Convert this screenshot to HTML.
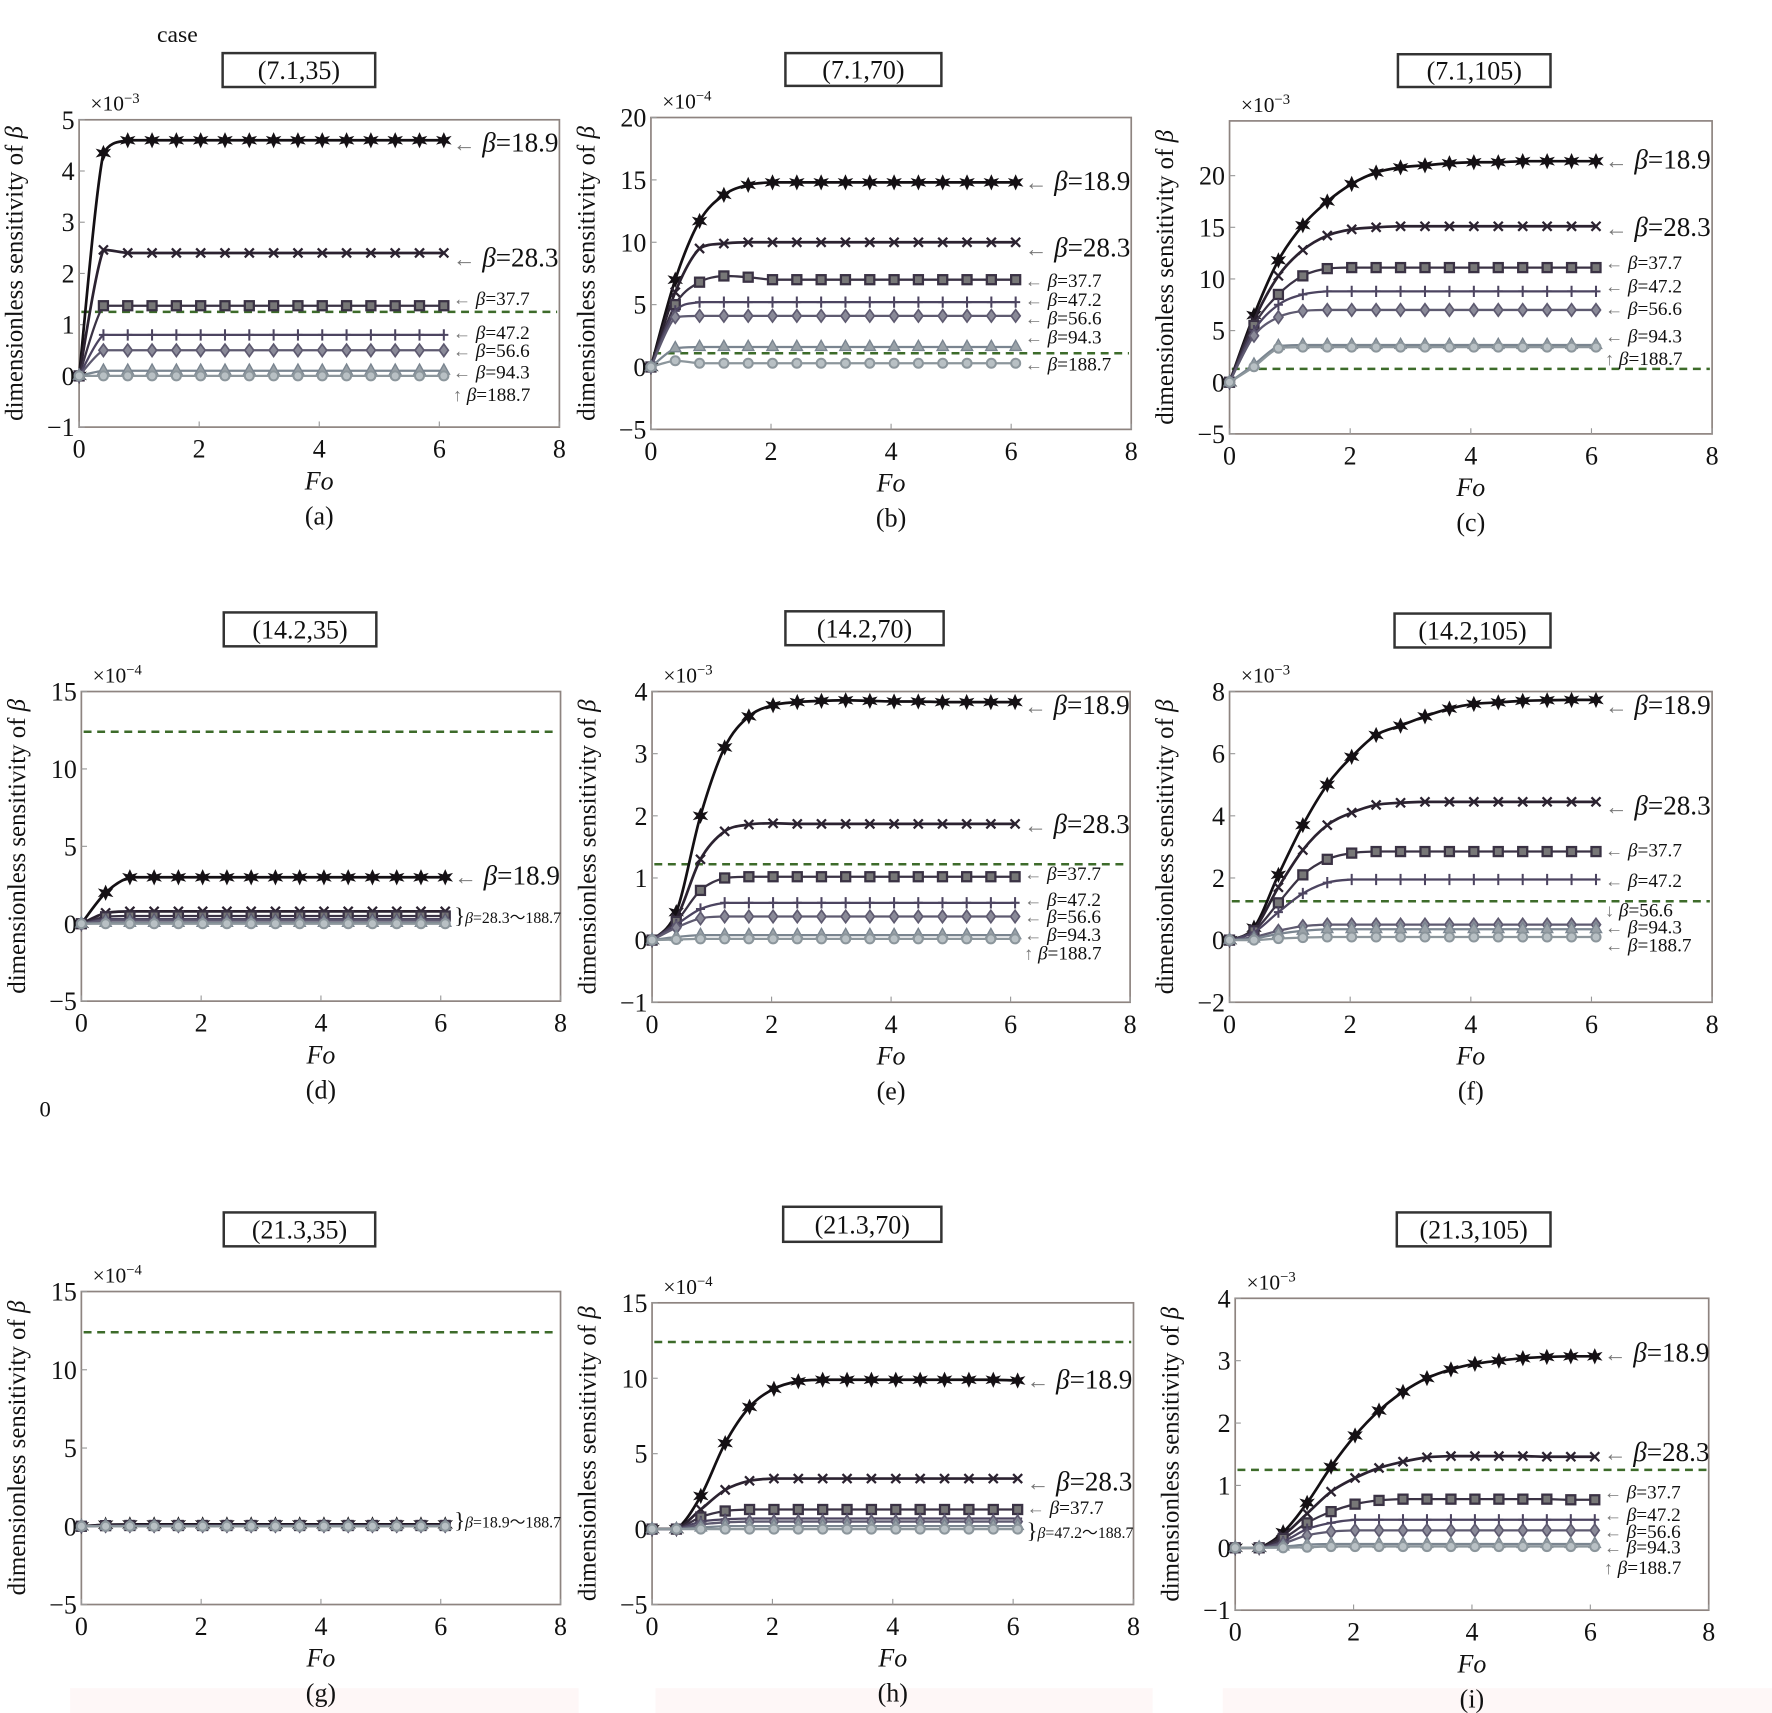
<!DOCTYPE html>
<html><head><meta charset="utf-8"><style>
html,body{margin:0;padding:0;background:#fff;}
svg{display:block;}
svg text{font-family:"Liberation Serif","DejaVu Serif",serif;fill:#111;}
</style></head><body>
<svg id="fig" width="1772" height="1713" viewBox="0 0 1568 1516" preserveAspectRatio="none" xmlns="http://www.w3.org/2000/svg" font-family="Liberation Serif, serif">
<rect x="0" y="0" width="1568" height="1516" fill="#fff"/>
<rect x="62" y="1494" width="450" height="22" fill="#fef7f7"/>
<rect x="580" y="1494" width="440" height="22" fill="#fef7f7"/>
<rect x="1082" y="1494" width="486" height="22" fill="#fef7f7"/>
<text x="157" y="37" font-size="21" text-anchor="middle">case</text>
<text x="40" y="988" font-size="20" text-anchor="middle">0</text>
<circle cx="1237" cy="545" r="2" fill="#e33"/>
<circle cx="1237" cy="572" r="2" fill="#e33"/>
</svg>
<script>
const fo = [0,0.405,0.81,1.215,1.62,2.025,2.43,2.835,3.24,3.645,4.05,4.455,4.86,5.265,5.67,6.075];
const betas = ['18.9','28.3','37.7','47.2','56.6','94.3','188.7'];
const valsA = [
 [0,4.35,4.6,4.6,4.6,4.6,4.6,4.6,4.6,4.6,4.6,4.6,4.6,4.6,4.6,4.6],
 [0,2.46,2.4,2.4,2.4,2.4,2.4,2.4,2.4,2.4,2.4,2.4,2.4,2.4,2.4,2.4],
 [0,1.37,1.37,1.37,1.37,1.37,1.37,1.37,1.37,1.37,1.37,1.37,1.37,1.37,1.37,1.37],
 [0,0.8,0.8,0.8,0.8,0.8,0.8,0.8,0.8,0.8,0.8,0.8,0.8,0.8,0.8,0.8],
 [0,0.5,0.5,0.5,0.5,0.5,0.5,0.5,0.5,0.5,0.5,0.5,0.5,0.5,0.5,0.5],
 [0,0.1,0.1,0.1,0.1,0.1,0.1,0.1,0.1,0.1,0.1,0.1,0.1,0.1,0.1,0.1],
 [0,0,0,0,0,0,0,0,0,0,0,0,0,0,0,0]];
const valsB = [
 [0,7,11.7,13.8,14.6,14.8,14.8,14.8,14.8,14.8,14.8,14.8,14.8,14.8,14.8,14.8],
 [0,6,9.5,9.9,10,10,10,10,10,10,10,10,10,10,10,10],
 [0,5,6.8,7.3,7.2,7,7,7,7,7,7,7,7,7,7,7],
 [0,4.5,5.2,5.2,5.2,5.2,5.2,5.2,5.2,5.2,5.2,5.2,5.2,5.2,5.2,5.2],
 [0,4,4.1,4.1,4.1,4.1,4.1,4.1,4.1,4.1,4.1,4.1,4.1,4.1,4.1,4.1],
 [0,1.5,1.6,1.6,1.6,1.6,1.6,1.6,1.6,1.6,1.6,1.6,1.6,1.6,1.6,1.6],
 [0,0.5,0.3,0.3,0.3,0.3,0.3,0.3,0.3,0.3,0.3,0.3,0.3,0.3,0.3,0.3]];
const valsC = [
 [0,6.5,11.8,15.2,17.5,19.2,20.3,20.8,21,21.2,21.3,21.3,21.4,21.4,21.4,21.4],
 [0,6,10.3,12.8,14.2,14.8,15,15.1,15.1,15.1,15.1,15.1,15.1,15.1,15.1,15.1],
 [0,5.5,8.5,10.3,11,11.1,11.1,11.1,11.1,11.1,11.1,11.1,11.1,11.1,11.1,11.1],
 [0,5,7.5,8.5,8.8,8.8,8.8,8.8,8.8,8.8,8.8,8.8,8.8,8.8,8.8,8.8],
 [0,4.5,6.3,6.9,7,7,7,7,7,7,7,7,7,7,7,7],
 [0,1.7,3.5,3.6,3.6,3.6,3.6,3.6,3.6,3.6,3.6,3.6,3.6,3.6,3.6,3.6],
 [0,1.5,3.3,3.4,3.4,3.4,3.4,3.4,3.4,3.4,3.4,3.4,3.4,3.4,3.4,3.4]];
const valsD = [
 [0,2,3,3,3,3,3,3,3,3,3,3,3,3,3,3],
 [0,0.7,0.8,0.8,0.8,0.8,0.8,0.8,0.8,0.8,0.8,0.8,0.8,0.8,0.8,0.8],
 [0,0.45,0.5,0.5,0.5,0.5,0.5,0.5,0.5,0.5,0.5,0.5,0.5,0.5,0.5,0.5],
 [0,0.3,0.3,0.3,0.3,0.3,0.3,0.3,0.3,0.3,0.3,0.3,0.3,0.3,0.3,0.3],
 [0,0.2,0.2,0.2,0.2,0.2,0.2,0.2,0.2,0.2,0.2,0.2,0.2,0.2,0.2,0.2],
 [0,0.05,0.05,0.05,0.05,0.05,0.05,0.05,0.05,0.05,0.05,0.05,0.05,0.05,0.05,0.05],
 [0,0,0,0,0,0,0,0,0,0,0,0,0,0,0,0]];
const valsE = [
 [0,0.45,2,3.1,3.6,3.78,3.83,3.85,3.86,3.85,3.84,3.84,3.83,3.83,3.83,3.83],
 [0,0.35,1.3,1.75,1.86,1.88,1.87,1.87,1.87,1.87,1.87,1.87,1.87,1.87,1.87,1.87],
 [0,0.3,0.8,1,1.02,1.02,1.02,1.02,1.02,1.02,1.02,1.02,1.02,1.02,1.02,1.02],
 [0,0.25,0.5,0.6,0.6,0.6,0.6,0.6,0.6,0.6,0.6,0.6,0.6,0.6,0.6,0.6],
 [0,0.2,0.35,0.38,0.38,0.38,0.38,0.38,0.38,0.38,0.38,0.38,0.38,0.38,0.38,0.38],
 [0,0.05,0.08,0.08,0.08,0.08,0.08,0.08,0.08,0.08,0.08,0.08,0.08,0.08,0.08,0.08],
 [0,0.01,0.02,0.02,0.02,0.02,0.02,0.02,0.02,0.02,0.02,0.02,0.02,0.02,0.02,0.02]];
const valsF = [
 [0,0.4,2.1,3.7,5,5.9,6.6,6.9,7.2,7.45,7.6,7.65,7.7,7.72,7.73,7.73],
 [0,0.35,1.7,2.9,3.7,4.1,4.35,4.42,4.45,4.45,4.45,4.45,4.45,4.45,4.45,4.45],
 [0,0.3,1.2,2.1,2.6,2.8,2.85,2.85,2.85,2.85,2.85,2.85,2.85,2.85,2.85,2.85],
 [0,0.25,0.9,1.5,1.85,1.95,1.95,1.95,1.95,1.95,1.95,1.95,1.95,1.95,1.95,1.95],
 [0,0.1,0.3,0.45,0.5,0.5,0.5,0.5,0.5,0.5,0.5,0.5,0.5,0.5,0.5,0.5],
 [0,0.05,0.2,0.3,0.35,0.35,0.35,0.35,0.35,0.35,0.35,0.35,0.35,0.35,0.35,0.35],
 [0,0,0.05,0.08,0.1,0.1,0.1,0.1,0.1,0.1,0.1,0.1,0.1,0.1,0.1,0.1]];
const valsG = [
 [0,0.1,0.12,0.12,0.12,0.12,0.12,0.12,0.12,0.12,0.12,0.12,0.12,0.12,0.12,0.12],
 [0,0.06,0.08,0.08,0.08,0.08,0.08,0.08,0.08,0.08,0.08,0.08,0.08,0.08,0.08,0.08],
 [0,0.04,0.05,0.05,0.05,0.05,0.05,0.05,0.05,0.05,0.05,0.05,0.05,0.05,0.05,0.05],
 [0,0.03,0.03,0.03,0.03,0.03,0.03,0.03,0.03,0.03,0.03,0.03,0.03,0.03,0.03,0.03],
 [0,0.02,0.02,0.02,0.02,0.02,0.02,0.02,0.02,0.02,0.02,0.02,0.02,0.02,0.02,0.02],
 [0,0.01,0.01,0.01,0.01,0.01,0.01,0.01,0.01,0.01,0.01,0.01,0.01,0.01,0.01,0.01],
 [0,0,0,0,0,0,0,0,0,0,0,0,0,0,0,0]];
const valsH = [
 [0,0,2.2,5.7,8.1,9.3,9.8,9.9,9.9,9.9,9.9,9.9,9.9,9.9,9.9,9.85],
 [0,0,1.3,2.6,3.2,3.35,3.35,3.35,3.35,3.35,3.35,3.35,3.35,3.35,3.35,3.35],
 [0,0,0.8,1.2,1.3,1.3,1.3,1.3,1.3,1.3,1.3,1.3,1.3,1.3,1.3,1.3],
 [0,0,0.5,0.65,0.7,0.7,0.7,0.7,0.7,0.7,0.7,0.7,0.7,0.7,0.7,0.7],
 [0,0,0.3,0.45,0.5,0.5,0.5,0.5,0.5,0.5,0.5,0.5,0.5,0.5,0.5,0.5],
 [0,0,0.1,0.2,0.2,0.2,0.2,0.2,0.2,0.2,0.2,0.2,0.2,0.2,0.2,0.2],
 [0,0,0,0,0,0,0,0,0,0,0,0,0,0,0,0]];
const valsI = [
 [0,0,0.25,0.72,1.3,1.8,2.2,2.5,2.72,2.86,2.95,3,3.04,3.06,3.07,3.07],
 [0,0,0.2,0.55,0.9,1.12,1.28,1.38,1.45,1.47,1.47,1.47,1.47,1.46,1.46,1.46],
 [0,0,0.15,0.4,0.58,0.7,0.76,0.78,0.78,0.78,0.78,0.78,0.78,0.78,0.77,0.77],
 [0,0,0.1,0.3,0.4,0.45,0.45,0.45,0.45,0.45,0.45,0.45,0.45,0.45,0.45,0.45],
 [0,0,0.07,0.2,0.26,0.28,0.28,0.28,0.28,0.28,0.28,0.28,0.28,0.28,0.28,0.28],
 [0,0,0.02,0.05,0.06,0.06,0.06,0.06,0.06,0.06,0.06,0.06,0.06,0.06,0.06,0.06],
 [0,0,0,0.01,0.02,0.02,0.02,0.02,0.02,0.02,0.02,0.02,0.02,0.02,0.02,0.02]];
const ticksA = [-1,0,1,2,3,4,5];
const ticksB = [-5,0,5,10,15,20];
const ticksC = [-5,0,5,10,15,20];
const ticksD = [-5,0,5,10,15];
const ticksE = [-1,0,1,2,3,4];
const ticksF = [-2,0,2,4,6,8];
const ticksG = [-5,0,5,10,15];
const ticksH = [-5,0,5,10,15];
const ticksI = [-1,0,1,2,3,4];
const xTicks = [0,2,4,6,8];
const thresholds = [1.25,1.1,1.3,12.4,1.22,1.25,12.4,12.4,1.25];

const NS='http://www.w3.org/2000/svg';
const svg=document.getElementById('fig');
function mk(tag,attrs,parent){const e=document.createElementNS(NS,tag);for(const k in attrs)e.setAttribute(k,attrs[k]);(parent||svg).appendChild(e);return e;}
const colors=['#141014','#2b2230','#3a3244','#4c4460','#5e5a70','#7a8590','#8c969c'];
const panels=[
 {id:'a',title:'(7.1,35)',exp:'-3',L:70,R:495,T:106,B:378,ymin:-1,ymax:5,ticks:ticksA,vals:valsA,box:[197,47,135,30],
  labels:[['←',0,126,22],['←',1,228,22],['←',2,265,16],['←',3,295,16],['←',4,311,16],['←',5,330,16],['↑',6,350,16]]},
 {id:'b',title:'(7.1,70)',exp:'-4',L:576,R:1001,T:104,B:380,ymin:-5,ymax:20,ticks:ticksB,vals:valsB,box:[695,47,138,29],
  labels:[['←',0,160,22],['←',1,219,22],['←',2,249,16],['←',3,266,16],['←',4,282,16],['←',5,299,16],['←',6,323,16]]},
 {id:'c',title:'(7.1,105)',exp:'-3',L:1088,R:1515,T:107,B:384,ymin:-5,ymax:25.3,ticks:ticksC,vals:valsC,box:[1237,48,135,29],
  labels:[['←',0,141,22],['←',1,201,22],['←',2,233,16],['←',3,254,16],['←',4,274,16],['←',5,298,16],['↑',6,318,16]]},
 {id:'d',title:'(14.2,35)',exp:'-4',L:72,R:496,T:612,B:886,ymin:-5,ymax:15,ticks:ticksD,vals:valsD,box:[198,542,135,30],
  labels:[['←',0,775,22],['}',-1,812,13,'28.3～188.7']]},
 {id:'e',title:'(14.2,70)',exp:'-3',L:577,R:1000,T:612,B:887,ymin:-1,ymax:4,ticks:ticksE,vals:valsE,box:[695,541,140,30],
  labels:[['←',0,624,22],['←',1,729,22],['←',2,774,16],['←',3,797,16],['←',4,812,16],['←',5,828,16],['↑',6,844,16]]},
 {id:'f',title:'(14.2,105)',exp:'-3',L:1088,R:1515,T:612,B:887,ymin:-2,ymax:8,ticks:ticksF,vals:valsF,box:[1234,543,138,30],
  labels:[['←',0,624,22],['←',1,713,22],['←',2,753,16],['←',3,780,16],['↓',4,806,16],['←',5,821,16],['←',6,837,16]]},
 {id:'g',title:'(21.3,35)',exp:'-4',L:72,R:496,T:1143,B:1420,ymin:-5,ymax:15,ticks:ticksG,vals:valsG,box:[198,1073,134,30],
  labels:[['}',-1,1347,13,'18.9～188.7']]},
 {id:'h',title:'(21.3,70)',exp:'-4',L:577,R:1003,T:1153,B:1420,ymin:-5,ymax:15,ticks:ticksH,vals:valsH,box:[693,1068,140,31],
  labels:[['←',0,1221,22],['←',1,1311,22],['←',2,1335,16],['}',-1,1356,13,'47.2～188.7']]},
 {id:'i',title:'(21.3,105)',exp:'-3',L:1093,R:1512,T:1149,B:1425,ymin:-1,ymax:4,ticks:ticksI,vals:valsI,box:[1236,1073,136,30],
  labels:[['←',0,1197,22],['←',1,1285,22],['←',2,1321,16],['←',3,1341,16],['←',4,1356,16],['←',5,1370,16],['↑',6,1388,16]]}
];
function clamp(v,a,b){const lo=Math.min(a,b),hi=Math.max(a,b);return Math.max(lo,Math.min(hi,v));}
function smooth(pts){let d='M'+pts[0][0]+','+pts[0][1];for(let i=0;i<pts.length-1;i++){const p0=pts[Math.max(0,i-1)],p1=pts[i],p2=pts[i+1],p3=pts[Math.min(pts.length-1,i+2)];
 const c1=[p1[0]+(p2[0]-p0[0])/6,clamp(p1[1]+(p2[1]-p0[1])/6,p1[1],p2[1])],c2=[p2[0]-(p3[0]-p1[0])/6,clamp(p2[1]-(p3[1]-p1[1])/6,p1[1],p2[1])];
 d+=' C'+c1[0]+','+c1[1]+' '+c2[0]+','+c2[1]+' '+p2[0]+','+p2[1];}return d;}
function marker(g,k,x,y,c){
 const s=4;
 if(k===0){const e=mk('path',{d:`M${x},${y-6} L${x+1.8},${y-2} L${x+5.5},${y-3} L${x+3},${y} L${x+5.5},${y+3} L${x+1.8},${y+2} L${x},${y+6} L${x-1.8},${y+2} L${x-5.5},${y+3} L${x-3},${y} L${x-5.5},${y-3} L${x-1.8},${y-2}Z`,fill:c,stroke:c,'stroke-width':1},g);
  }
 else if(k===1){const e=mk('path',{d:`M${x-s},${y-s}L${x+s},${y+s}M${x-s},${y+s}L${x+s},${y-s}`,stroke:c,'stroke-width':2},g);
  }
 else if(k===2){const e=mk('rect',{x:x-s,y:y-s,width:2*s,height:2*s,fill:'#777',stroke:c,'stroke-width':2},g);
  }
 else if(k===3){const e=mk('path',{d:`M${x-s},${y}L${x+s},${y}M${x},${y-s-1}L${x},${y+s+1}`,stroke:c,'stroke-width':1.8},g);
  }
 else if(k===4){const e=mk('path',{d:`M${x},${y-5.5}L${x+4},${y}L${x},${y+5.5}L${x-4},${y}Z`,fill:'#8a8a98',stroke:c,'stroke-width':1.5},g);
  }
 else if(k===5){const e=mk('path',{d:`M${x},${y-6}L${x+5},${y+3}L${x-5},${y+3}Z`,fill:'#9aa2a8',stroke:c,'stroke-width':1.2},g);
  }
 else {const e=mk('circle',{cx:x,cy:y,r:4,fill:'#b8c0c4',stroke:c,'stroke-width':1.8},g);
  }
}
panels.forEach((p,pi)=>{
 const g=mk('g',{});
 
 
 const sx=v=>p.L+(v/8)*(p.R-p.L);
 const sy=v=>p.B-(v-p.ymin)/(p.ymax-p.ymin)*(p.B-p.T);
 const tb=mk('rect',{x:p.box[0],y:p.box[1],width:p.box[2],height:p.box[3],fill:'#fff',stroke:'#333','stroke-width':2.2},g);
 
 const tt=mk('text',{x:p.box[0]+p.box[2]/2,y:p.box[1]+p.box[3]/2+8,'font-size':23,'text-anchor':'middle'},g);tt.textContent=p.title;
 
 const fr=mk('rect',{x:p.L,y:p.T,width:p.R-p.L,height:p.B-p.T,fill:'#fff',stroke:'#8e8480','stroke-width':1.5},g);
 
 p.ticks.forEach(t=>{const y=sy(t);
  const tl=mk('line',{x1:p.L,x2:p.L+5,y1:y,y2:y,stroke:'#999','stroke-width':1},g);
  
  const tx=mk('text',{x:p.L-4,y:y+8,'font-size':23,'text-anchor':'end'},g);tx.textContent=t<0?'−'+(-t):String(t);
  });
 xTicks.forEach(t=>{const x=sx(t);
  const tl=mk('line',{x1:x,x2:x,y1:p.B,y2:p.B-5,stroke:'#999','stroke-width':1},g);
  
  const tx=mk('text',{x:x,y:p.B+27,'font-size':23,'text-anchor':'middle'},g);tx.textContent=String(t);
  });
 const ex=mk('text',{x:p.L+10,y:p.T-8,'font-size':19},g);ex.innerHTML='×10<tspan dy="-7" font-size="13">−'+p.exp.slice(1)+'</tspan>';
 
 const cy=(p.T+p.B)/2, yx=p.L-50;
 const yl=mk('text',{x:yx,y:cy,'font-size':22,'text-anchor':'middle',transform:`rotate(-90 ${yx} ${cy})`},g);
 yl.innerHTML='dimensionless sensitivity of <tspan font-style="italic">β</tspan>';
 
 const xl=mk('text',{x:(p.L+p.R)/2,y:p.B+55,'font-size':23,'font-style':'italic','text-anchor':'middle'},g);xl.textContent='Fo';
 
 const cap=mk('text',{x:(p.L+p.R)/2,y:p.B+86,'font-size':23,'text-anchor':'middle'},g);cap.textContent='('+p.id+')';
 
 const th=sy(thresholds[pi]);
 const dl=mk('line',{x1:p.L+2,x2:p.R-2,y1:th,y2:th,stroke:'#3d6b2a','stroke-width':2.2,'stroke-dasharray':'7 5'},g);
 
 for(let k=0;k<p.vals.length;k++){
  const pts=fo.map((f,i)=>[sx(f),sy(p.vals[k][i])]);
  const sg=mk('g',{},g);
  
  
  const ln=mk('path',{d:smooth(pts),fill:'none',stroke:colors[k],'stroke-width':k<2?2.4:2},sg);
  
  pts.forEach(pt=>marker(sg,k,pt[0],pt[1],colors[k]));
 }
 const lx=sx(fo[fo.length-1])+8;
 p.labels.forEach(l=>{
  const big=l[3]>18;
  const t=mk('text',{x:lx,y:l[2]+(big?8:5),'font-size':big?24:17},g);
  if(l[1]<0){t.setAttribute('font-size',14);t.innerHTML='<tspan font-size="20">}</tspan><tspan font-style="italic">β</tspan>='+l[4];}
  else{t.innerHTML='<tspan fill="#777" font-size="'+(big?20:16)+'">'+l[0]+'</tspan> <tspan font-style="italic">β</tspan>='+betas[l[1]];}
  
  
 });
});
</script>
</body></html>
